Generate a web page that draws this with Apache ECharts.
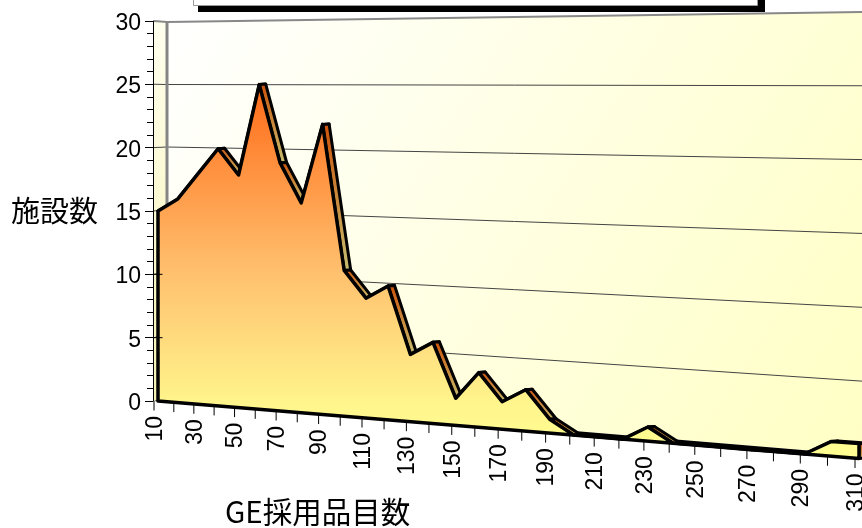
<!DOCTYPE html>
<html>
<head>
<meta charset="utf-8">
<style>html,body{margin:0;padding:0;background:#fff}#chart{width:862px;height:528px}</style>
<script src="https://cdn.jsdelivr.net/npm/echarts@6/dist/echarts.min.js"></script>
</head>
<body>
<div id="chart"></div>
<script>
var xValues = [10, 20, 30, 40, 50, 60, 70, 80, 90, 100, 110, 120, 130, 140, 150, 160, 170, 180, 190, 200, 210, 220, 230, 240, 250, 260, 270, 280, 290, 300, 310];
var facilityCounts = [15, 16, 18, 20, 18, 25, 19, 16, 22, 11, 9, 10, 5, 6, 2, 4, 2, 3, 1, 0, 0, 0, 1, 0, 0, 0, 0, 0, 0, 1, 1];
var xTickLabels = [10, 30, 50, 70, 90, 110, 130, 150, 170, 190, 210, 230, 250, 270, 290, 310];
var gridValues = [0, 5, 10, 15, 20, 25, 30];
var innerTickValues = [5, 10];
var yName = '施設数';
var xName = 'GE採用品目数';

var cjkFont = '"Noto Sans CJK JP"';
var numFont = '"Liberation Sans"';
var plotLeft = 153, plotRight = 855, plotTop = 21, plotBottom = 401;
var xMin = 10, xMax = 310, yMax = 30;

// perspective of the old 3D chart: the plane gets closer toward the right
function depth(px) {
    var u = (px - plotLeft) / (plotRight - plotLeft);
    return u / (1 + 0.185 * (1 - u));
}
function front(p) {
    var f = depth(p[0]);
    var w = (plotBottom - p[1]) / (plotBottom - plotTop) * yMax;
    return [154 + 701 * f, 401 + 57.5 * f - w * (12.67 + 2.2 * f)];
}
function wall(p) {
    var f = depth(p[0]);
    var w = (plotBottom - p[1]) / (plotBottom - plotTop) * yMax;
    return [167 + 695 * f, 397 + 58 * f - w * (12.5 + 2.27 * f)];
}
function areaPoint(p) {
    var q = front(p);
    return [q[0] + 4, q[1]];
}
function shifted(q) {
    return [q[0] + 6.5, q[1] - 0.5];
}

function drawWalls(params, api) {
    if (params.dataIndex !== 0) return;
    var children = [];
    var a = api.coord([xMin, 0]), b = api.coord([xMax, 0]);
    var c = api.coord([xMin, yMax]), d = api.coord([xMax, yMax]);
    children.push({
        type: 'polygon',
        shape: {points: [wall(c), wall(d), wall(b), wall(a)]},
        style: {
            fill: {type: 'linear', x: 0, y: 0, x2: 1, y2: 1, colorStops: [
                {offset: 0, color: '#ffffff'}, {offset: 1, color: '#ffffc4'}]}
        }
    });
    children.push({
        type: 'polygon',
        shape: {points: [front(c), wall(c), wall(a), front(a)]},
        style: {
            fill: {type: 'linear', x: 0, y: 0, x2: 0, y2: 1, colorStops: [
                {offset: 0, color: '#ffffee'}, {offset: 1, color: '#f6f2b4'}]}
        }
    });
    // floor, seen almost edge on
    children.push({
        type: 'polygon',
        shape: {points: [front(a), wall(a), wall(b), front(b)]},
        style: {fill: '#000'}
    });
    gridValues.forEach(function (v) {
        if (v === 0 || v === yMax) return;
        var l = api.coord([xMin, v]), r = api.coord([xMax, v]);
        children.push({
            type: 'polyline',
            shape: {points: [front(l), wall(l), wall(r)]},
            style: {fill: null, stroke: '#444', lineWidth: 1}
        });
    });
    children.push({
        type: 'polyline',
        shape: {points: [front(c), wall(c), wall(d)]},
        style: {fill: null, stroke: '#888', lineWidth: 2}
    });
    children.push({
        type: 'polyline',
        shape: {points: [wall(c), wall(a)]},
        style: {fill: null, stroke: '#858585', lineWidth: 3}
    });
    return {type: 'group', children: children};
}

var ribbonFill = {type: 'linear', x: 0, y: 0, x2: 0, y2: 1, colorStops: [
    {offset: 0, color: '#cc5208'}, {offset: 1, color: '#c6bf70'}]};

function drawRibbon(params, api) {
    var i = params.dataIndex;
    var p = areaPoint(api.coord([xValues[i], facilityCounts[i]]));
    var next;
    if (i < xValues.length - 1) {
        next = areaPoint(api.coord([xValues[i + 1], facilityCounts[i + 1]]));
    } else {
        next = areaPoint(api.coord([xValues[i], 0]));
    }
    return {
        type: 'polygon',
        shape: {points: [p, shifted(p), shifted(next), next]},
        style: {fill: ribbonFill, stroke: '#000', lineWidth: 3, lineJoin: 'round'}
    };
}

function drawFront(params, api) {
    if (params.dataIndex !== 0) return;
    var pts = [];
    for (var i = 0; i < xValues.length; i++) {
        pts.push(areaPoint(api.coord([xValues[i], facilityCounts[i]])));
    }
    pts.push(areaPoint(api.coord([xMax, 0])));
    pts.push(areaPoint(api.coord([xMin, 0])));
    return {
        type: 'polygon',
        shape: {points: pts},
        style: {
            fill: {type: 'linear', x: 0, y: 0, x2: 0, y2: 1, colorStops: [
                {offset: 0, color: '#ff6a18'}, {offset: 0.5, color: '#ffc06e'}, {offset: 0.85, color: '#fff58c'}, {offset: 1, color: '#ffff92'}]},
            stroke: '#000',
            lineWidth: 3.5,
            lineJoin: 'round'
        }
    };
}

function drawTicks(params, api) {
    var x = xValues[params.dataIndex];
    var q = front(api.coord([x, 0]));
    var children = [{
        type: 'line',
        shape: {x1: q[0], y1: q[1], x2: q[0], y2: q[1] + 9.5},
        style: {stroke: '#000', lineWidth: 1}
    }];
    if (xTickLabels.indexOf(x) >= 0) {
        children.push({
            type: 'text',
            x: q[0] + 1.5,
            y: q[1] + 15,
            rotation: Math.PI / 2,
            style: {
                text: String(x),
                font: '23px ' + numFont,
                fill: '#000',
                align: 'right',
                verticalAlign: 'middle'
            }
        });
    }
    if (params.dataIndex === 0) {
        innerTickValues.forEach(function (v) {
            var t = api.coord([xMin, v]);
            children.push({
                type: 'line',
                shape: {x1: t[0], y1: t[1], x2: t[0] + 9.5, y2: t[1]},
                style: {stroke: '#000', lineWidth: 1}
            });
        });
    }
    return {type: 'group', children: children};
}

var seriesData = xValues.map(function (x, i) {
    return [x, facilityCounts[i]];
});

function customSeries(fn, z) {
    return {
        type: 'custom',
        coordinateSystem: 'cartesian2d',
        renderItem: fn,
        data: seriesData,
        encode: {x: 0, y: 1},
        clip: false,
        silent: true,
        animation: false,
        z: z
    };
}

var myChart = echarts.init(document.getElementById('chart'));
myChart.setOption({
    animation: false,
    backgroundColor: '#fff',
    title: {
        text: xName,
        left: 225,
        top: 497,
        padding: 0,
        textStyle: {fontFamily: cjkFont, fontSize: 29.5, fontWeight: 'normal', color: '#000'}
    },
    grid: {left: plotLeft, top: plotTop, width: plotRight - plotLeft, height: plotBottom - plotTop, outerBoundsMode: 'none'},
    xAxis: {type: 'value', min: xMin, max: xMax, show: false},
    yAxis: {
        type: 'value',
        min: 0,
        max: yMax,
        interval: 5,
        z: 10,
        name: yName,
        nameLocation: 'middle',
        nameRotate: 0,
        nameGap: 55,
        nameTextStyle: {fontFamily: cjkFont, fontSize: 29, color: '#000'},
        axisLine: {show: true, lineStyle: {color: '#000', width: 1}},
        axisTick: {show: true, length: 8, lineStyle: {color: '#000', width: 1}},
        minorTick: {show: true, splitNumber: 5, length: 6, lineStyle: {color: '#000', width: 1}},
        axisLabel: {margin: 12, verticalAlign: 'top', padding: [-9, 0, 0, 0], fontFamily: numFont, fontSize: 23, color: '#000'},
        splitLine: {show: false}
    },
    series: [
        customSeries(drawWalls, 1),
        customSeries(drawRibbon, 2),
        customSeries(drawFront, 3),
        customSeries(drawTicks, 4)
    ],
    graphic: [
        {type: 'rect', z: 20, shape: {x: 198, y: -20, width: 567, height: 32}, style: {fill: '#000'}},
        {type: 'rect', z: 21, shape: {x: 193.5, y: -20, width: 564, height: 25.5}, style: {fill: '#fff', stroke: '#999', lineWidth: 1}}
    ]
});
</script>
</body>
</html>
